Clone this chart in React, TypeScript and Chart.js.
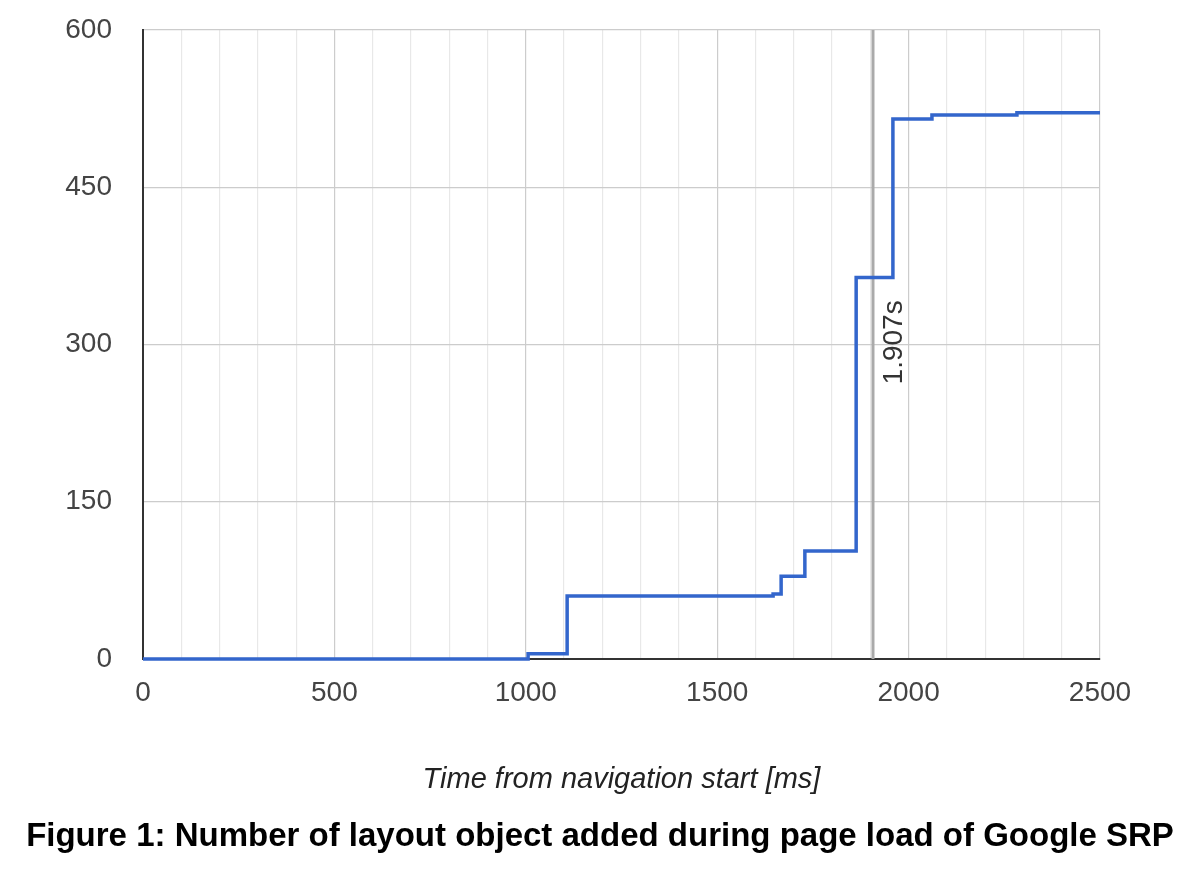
import React, { useEffect, useRef } from "react";
import { Chart, registerables } from "chart.js";

Chart.register(...registerables);

// Data: step points (time in ms, cumulative layout objects)
const timesMs = [0, 1006, 1108, 1646, 1667, 1729, 1863, 1959, 2061, 2283, 2500];
const layoutObjects = [0, 5, 60, 62, 79, 103, 364, 515, 519, 521, 521];

// Axis ranges / ticks
const xMin = 0;
const xMax = 2500;
const xMinorStep = 100;
const xMajorStep = 500;
const yMin = 0;
const yMax = 600;
const yStep = 150;

// Marker annotation
const markerX = [1907];
const markerLabels = ["1.907s"];
const markerLabelY = [302];

const xTitle = "Time from navigation start [ms]";
const caption = "Figure 1: Number of layout object added during page load of Google SRP";

const FONT = "'Liberation Sans', Arial, Helvetica, sans-serif";

const markerPlugin = {
  id: "markerPlugin",
  beforeDatasetsDraw(chart: any) {
    const { ctx, chartArea, scales } = chart;
    ctx.save();
    markerX.forEach((v, i) => {
      const px = scales.x.getPixelForValue(v);
      ctx.strokeStyle = "#aaaaaa";
      ctx.lineWidth = 3;
      ctx.beginPath();
      ctx.moveTo(px, chartArea.top);
      ctx.lineTo(px, chartArea.bottom);
      ctx.stroke();
      const py = scales.y.getPixelForValue(markerLabelY[i]);
      ctx.translate(px + 21, py);
      ctx.rotate(-Math.PI / 2);
      ctx.fillStyle = "#333333";
      ctx.font = `28px ${FONT}`;
      ctx.textAlign = "center";
      ctx.textBaseline = "middle";
      ctx.fillText(markerLabels[i], 0, 0);
      ctx.setTransform(1, 0, 0, 1, 0, 0);
    });
    ctx.restore();
  },
};

export default function App() {
  const canvasRef = useRef<HTMLCanvasElement | null>(null);

  useEffect(() => {
    if (!canvasRef.current) return;
    const chart = new Chart(canvasRef.current, {
      type: "line",
      data: {
        datasets: [
          {
            data: timesMs.map((t, i) => ({ x: t, y: layoutObjects[i] })),
            borderColor: "#3366cc",
            borderWidth: 3.5,
            pointRadius: 0,
            stepped: "before",
            fill: false,
            clip: 4,
          },
        ],
      },
      options: {
        animation: false,
        responsive: false,
        devicePixelRatio: 1,
        layout: { padding: { left: 0, right: 0, top: 30, bottom: 0 } },
        plugins: {
          legend: { display: false },
          tooltip: { enabled: false },
          title: {
            display: true,
            position: "bottom",
            text: caption,
            color: "#000000",
            font: { family: FONT, size: 33, weight: "bold" },
            padding: { top: 0, bottom: 15 },
          },
        },
        scales: {
          x: {
            type: "linear",
            min: xMin,
            max: xMax,
            afterFit: (s: any) => {
              s.height = 158.4;
            },
            ticks: {
              stepSize: xMinorStep,
              autoSkip: false,
              maxRotation: 0,
              padding: 17,
              color: "#444444",
              font: { family: FONT, size: 28 },
              callback: (v: any) => (Number(v) % xMajorStep === 0 ? String(v) : ""),
            },
            grid: {
              drawTicks: false,
              color: (c: any) =>
                c.tick && c.tick.value % xMajorStep === 0 ? "#cccccc" : "#e8e8e8",
              lineWidth: 1.2,
            },
            border: { color: "#333333", width: 2 },
            title: {
              display: true,
              text: xTitle,
              color: "#222222",
              font: { family: FONT, size: 29, style: "italic" },
              padding: { top: 0, bottom: 20 },
            },
          },
          y: {
            type: "linear",
            min: yMin,
            max: yMax,
            afterFit: (s: any) => {
              s.width = 143;
              s.paddingTop = 0;
              s.paddingBottom = 0;
            },
            ticks: {
              stepSize: yStep,
              padding: 31,
              color: "#444444",
              font: { family: FONT, size: 28 },
            },
            grid: {
              drawTicks: false,
              color: "#cccccc",
              lineWidth: 1.2,
            },
            border: { color: "#333333", width: 2 },
          },
          yRight: {
            type: "linear",
            position: "right",
            min: yMin,
            max: yMax,
            afterFit: (s: any) => {
              s.width = 100;
              s.paddingTop = 0;
              s.paddingBottom = 0;
            },
            ticks: { display: false },
            grid: { display: false, drawTicks: false },
            border: { display: false },
          },
        },
      },
      plugins: [markerPlugin],
    });
    return () => chart.destroy();
  }, []);

  return (
    <div style={{ position: "absolute", left: 0, top: 0, width: 1200, height: 872, background: "#fff" }}>
      <canvas ref={canvasRef} width={1200} height={872} />
    </div>
  );
}
